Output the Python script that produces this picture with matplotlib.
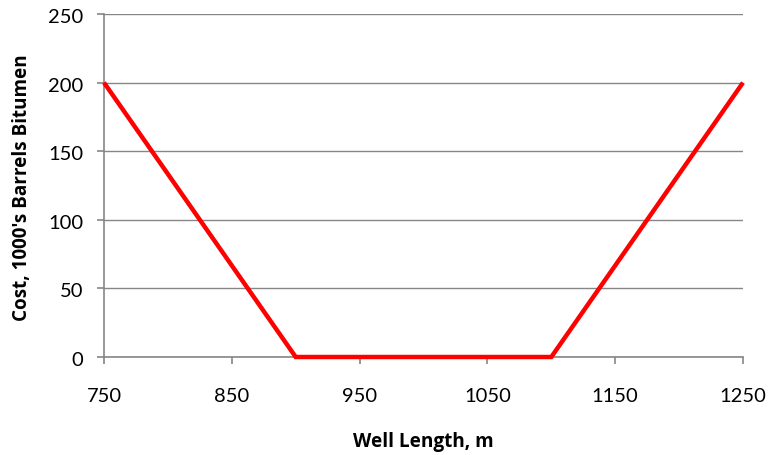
import matplotlib
matplotlib.use("Agg")
import matplotlib.pyplot as plt
from matplotlib.transforms import ScaledTranslation

well_length = [750, 900, 1100, 1250]
cost = [200, 0, 0, 200]
x_ticks = [750, 850, 950, 1050, 1150, 1250]
y_ticks = [0, 50, 100, 150, 200, 250]

plt.rcParams['font.family'] = ['Lato', 'DejaVu Sans']

W, H = 771, 455
fig = plt.figure(figsize=(W / 100, H / 100), dpi=100)
L, R, T, B = 104, 743, 14, 357
ax = fig.add_axes([L / W, 1 - B / H, (R - L) / W, (B - T) / H])

gray = '#868686'
ax.plot(well_length, cost, color='#FF0000', lw=3.2, solid_joinstyle='miter',
        solid_capstyle='butt', zorder=3, clip_on=False)
ax.set_xlim(750, 1250)
ax.set_ylim(0, 250)
ax.set_xticks(x_ticks)
ax.set_yticks(y_ticks)
ax.yaxis.grid(True, color=gray, lw=1)
ax.set_axisbelow(True)
for s in ['top', 'right']:
    ax.spines[s].set_visible(False)
for s in ['left', 'bottom']:
    ax.spines[s].set_color(gray)
    ax.spines[s].set_linewidth(1.2)
ax.tick_params(axis='both', direction='out', length=5, width=1.2, color=gray,
               labelsize=14.5, labelcolor='black')
ax.tick_params(axis='x', pad=17)
ax.tick_params(axis='y', pad=10)
for lab in ax.get_yticklabels():
    lab.set_transform(lab.get_transform() + ScaledTranslation(0, -2 / 100, fig.dpi_scale_trans))

lab_font = ['Open Sans', 'DejaVu Sans']
ax.set_xlabel('Well Length, m', fontsize=13.7, fontweight='bold', family=lab_font)
ax.set_ylabel("Cost, 1000's Barrels Bitumen", fontsize=13.6, fontweight='bold', family=lab_font)
ax.xaxis.set_label_coords(0.5, (B - 447) / (B - T))
ax.yaxis.set_label_coords((27 - L) / (R - L), (B - 187.5) / (B - T))
ax.xaxis.label.set_va('baseline')
ax.xaxis.label.set_ha('center')
ax.yaxis.label.set_rotation_mode('anchor')
ax.yaxis.label.set_va('baseline')
ax.yaxis.label.set_ha('center')

fig.savefig('out.png', dpi=100)
